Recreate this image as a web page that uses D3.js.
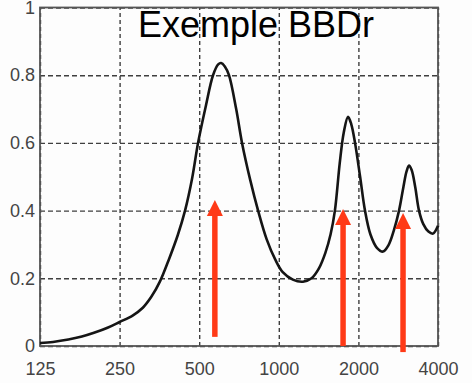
<!DOCTYPE html>
<html>
<head>
<meta charset="utf-8">
<script src="https://cdn.jsdelivr.net/npm/d3@7"></script>
<style>
  body { margin: 0; background: #fdfdfd; }
  svg { display: block; }
</style>
</head>
<body>
<div id="content"></div>
<script>
// frequences (Hz) et coefficient
var freqs = [125, 140, 160, 180, 200, 225, 250, 280, 306, 330, 355, 385, 415, 442, 470, 495, 530, 564, 590, 605, 625, 648, 690, 726, 780, 835, 900, 970, 1035, 1130, 1234, 1330, 1420, 1500, 1570, 1630, 1700, 1760, 1827, 1880, 1942, 2030, 2118, 2220, 2350, 2480, 2600, 2720, 2849, 2960, 3040, 3107, 3180, 3280, 3390, 3520, 3680, 3830, 4000];
var absorb = [0.009, 0.012, 0.019, 0.028, 0.039, 0.054, 0.071, 0.09, 0.113, 0.146, 0.19, 0.258, 0.328, 0.4, 0.495, 0.6, 0.71, 0.8, 0.832, 0.836, 0.826, 0.8, 0.7, 0.6, 0.49, 0.4, 0.315, 0.255, 0.218, 0.196, 0.19, 0.2, 0.23, 0.275, 0.33, 0.4, 0.54, 0.63, 0.677, 0.655, 0.6, 0.5, 0.4, 0.33, 0.29, 0.279, 0.298, 0.34, 0.4, 0.47, 0.515, 0.533, 0.52, 0.47, 0.4, 0.36, 0.338, 0.332, 0.355];

var xTicks = [125, 250, 500, 1000, 2000, 4000];
var yTicks = [0, 0.2, 0.4, 0.6, 0.8, 1];

// fleches rouges
var arrowFreqs = [573, 1750, 2950];
var arrowTops = [0.431, 0.405, 0.393];
var arrowBottoms = [0.027, 0, -0.018];

var titre = "Exemple BBDr";

var W = 472, H = 383;
var mLeft = 40, mRight = 438, mTop = 7.5, mBottom = 346;

var svg = d3.select("#content")
    .append("svg")
        .attr("width", W)
        .attr("height", H);

var x = d3.scaleLog().base(2).domain([125, 4000]).range([mLeft, mRight]);
var y = d3.scaleLinear().domain([0, 1]).range([mBottom, mTop]);

// grille verticale
var gx = svg.append("g")
    .attr("transform", "translate(0," + mBottom + ")")
    .call(d3.axisBottom(x).tickValues(xTicks).tickSize(-(mBottom - mTop)).tickFormat(""));
gx.select(".domain").remove();
gx.selectAll("line")
    .style("stroke", "#3f3f3f")
    .style("stroke-width", 1.4)
    .style("stroke-dasharray", "4,3");

// grille horizontale
var gy = svg.append("g")
    .attr("transform", "translate(" + mLeft + ",0)")
    .call(d3.axisLeft(y).tickValues(yTicks).tickSize(-(mRight - mLeft)).tickFormat(""));
gy.select(".domain").remove();
gy.selectAll("line")
    .style("stroke", "#3f3f3f")
    .style("stroke-width", 1.4)
    .style("stroke-dasharray", "5,3");

// cadre
svg.append("rect")
    .attr("x", mLeft)
    .attr("y", mTop)
    .attr("width", mRight - mLeft)
    .attr("height", mBottom - mTop)
    .style("fill", "none")
    .style("stroke", "#555")
    .style("stroke-width", 1.8);

// labels des axes
var lx = svg.append("g")
    .attr("transform", "translate(0," + mBottom + ")")
    .call(d3.axisBottom(x).tickValues(xTicks).tickSize(0).tickPadding(16).tickFormat(d3.format("d")));
lx.select(".domain").remove();

var ly = svg.append("g")
    .attr("transform", "translate(" + mLeft + ",0)")
    .call(d3.axisLeft(y).tickValues(yTicks).tickSize(0).tickPadding(5).tickFormat(d3.format("~g")));
ly.select(".domain").remove();

svg.selectAll(".tick text")
    .style("font-family", "'Liberation Sans', Arial, sans-serif")
    .style("font-size", "18px")
    .style("fill", "#444");

// courbe
var line = d3.line()
    .x(function(d, i) { return x(freqs[i]); })
    .y(function(d) { return y(d); })
    .curve(d3.curveCatmullRom.alpha(0.5));

svg.append("path")
    .datum(absorb)
    .attr("d", line)
    .style("fill", "none")
    .style("stroke", "#151515")
    .style("stroke-width", 2.6)
    .style("stroke-linejoin", "round");

// titre
svg.append("text")
    .attr("x", 256)
    .attr("y", 37)
    .attr("text-anchor", "middle")
    .style("font-family", "'Liberation Sans', Arial, sans-serif")
    .style("font-size", "36px")
    .style("fill", "#000")
    .text(titre);

// fleches
var head = 16, tete = 8;
arrowFreqs.forEach(function(f, i) {
    var ax = x(f);
    var yt = y(arrowTops[i]);
    var yb = y(arrowBottoms[i]);
    svg.append("line")
        .attr("x1", ax).attr("x2", ax)
        .attr("y1", yb).attr("y2", yt + head - 2)
        .style("stroke", "#ff3a17")
        .style("stroke-width", 5.5);
    svg.append("path")
        .attr("d", "M" + ax + "," + yt + " L" + (ax + tete) + "," + (yt + head) + " L" + (ax - tete) + "," + (yt + head) + " Z")
        .style("fill", "#ff3a17");
});
</script>
</body>
</html>
